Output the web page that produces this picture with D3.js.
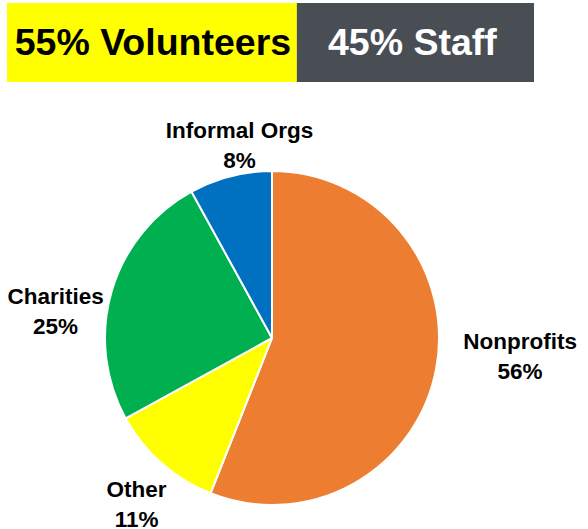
<!DOCTYPE html>
<html>
<head>
<meta charset="utf-8">
<script src="https://cdn.jsdelivr.net/npm/d3@7"></script>
<style>
  html, body { margin: 0; padding: 0; background: #fff; }
  svg { display: block; font-family: "Liberation Sans", Arial, sans-serif; }
</style>
</head>
<body>
<svg id="chart" width="588" height="529"></svg>
<script>
// Workforce split shown in the header banner
const bannerLabels = ["55% Volunteers", "45% Staff"];
const bannerShares = [55, 45];

// Pie: share of organisations by type (clockwise from 12 o'clock)
const categories = ["Nonprofits", "Other", "Charities", "Informal Orgs"];
const values = [56, 11, 25, 8];
const colors = ["#ED7D31", "#FFFF00", "#00B050", "#0070C0"];

const svg = d3.select("#chart");

// ---- Banner ----
const bannerX = d3.scaleLinear().domain([0, 100]).range([7, 534]);
const bannerFill = ["#FFFF00", "#494E55"];
const bannerText = ["#000000", "#FFFFFF"];
let acc = 0;
const bannerData = bannerShares.map((v, i) => {
  const d = { label: bannerLabels[i], x0: acc, x1: acc + v, i };
  acc += v;
  return d;
});
const banner = svg.append("g");
banner.selectAll("rect").data(bannerData).join("rect")
  .attr("x", d => bannerX(d.x0))
  .attr("width", d => bannerX(d.x1) - bannerX(d.x0))
  .attr("y", 3).attr("height", 79)
  .attr("fill", d => bannerFill[d.i]);
banner.selectAll("text").data(bannerData).join("text")
  .attr("x", (d, i) => (bannerX(d.x0) + bannerX(d.x1)) / 2 + (i === 1 ? -3 : 1))
  .attr("y", 55)
  .attr("text-anchor", "middle")
  .attr("font-size", 37.5)
  .attr("font-weight", "bold")
  .attr("fill", d => bannerText[d.i])
  .text(d => d.label);

// ---- Pie ----
const cx = 272, cy = 338, radius = 167;
const pie = d3.pie().sort(null).value(d => d)(values);
const arc = d3.arc().innerRadius(0).outerRadius(radius);

const g = svg.append("g").attr("transform", `translate(${cx},${cy})`);
g.selectAll("path").data(pie).join("path")
  .attr("d", arc)
  .attr("fill", (d, i) => colors[i])
  .attr("stroke", "#fff")
  .attr("stroke-width", 2)
  .attr("stroke-linejoin", "round");

// Outside-end data labels: offset of each label block (centre x, first baseline)
// from its slice's rim point at mid-angle.
const rimArc = d3.arc().innerRadius(radius).outerRadius(radius);
const labelShift = [[84, -20], [-25, 34], [-56, 13], [9, -38]];
const labels = svg.append("g")
  .attr("font-size", 22.5)
  .attr("font-weight", "bold")
  .attr("fill", "#000")
  .attr("text-anchor", "middle");

pie.forEach((d, i) => {
  const [px, py] = rimArc.centroid(d);
  const x = cx + px + labelShift[i][0];
  const y = cy + py + labelShift[i][1];
  const t = labels.append("text");
  t.append("tspan").attr("x", x).attr("y", y).text(categories[i]);
  t.append("tspan").attr("x", x).attr("y", y + 30).text(values[i] + "%");
});
</script>
</body>
</html>
